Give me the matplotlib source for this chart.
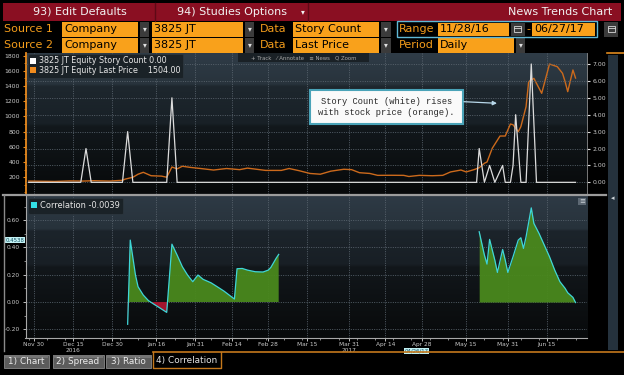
import numpy as np
import matplotlib
matplotlib.use("Agg")
import matplotlib.pyplot as plt
import matplotlib.dates as mdates
from matplotlib import font_manager
from matplotlib.patches import Rectangle, Patch
from matplotlib.ticker import MultipleLocator, FixedLocator, FormatStrFormatter
from matplotlib.transforms import blended_transform_factory
from matplotlib.colors import to_rgb

# ---------------- data ----------------
price_dates = ['2016-11-28', '2016-12-02', '2016-12-08', '2016-12-14', '2016-12-19', '2016-12-23',
               '2016-12-29', '2017-01-03', '2017-01-04', '2017-01-07', '2017-01-09', '2017-01-11',
               '2017-01-14', '2017-01-18', '2017-01-20', '2017-01-22', '2017-01-24', '2017-01-26',
               '2017-01-29', '2017-02-02', '2017-02-07', '2017-02-12', '2017-02-17', '2017-02-20',
               '2017-02-27', '2017-03-05', '2017-03-08', '2017-03-12', '2017-03-16', '2017-03-20',
               '2017-03-24', '2017-03-29', '2017-04-01', '2017-04-04', '2017-04-08', '2017-04-11',
               '2017-04-16', '2017-04-21', '2017-04-23', '2017-04-27', '2017-05-02', '2017-05-06',
               '2017-05-09', '2017-05-13', '2017-05-15', '2017-05-18', '2017-05-20', '2017-05-22',
               '2017-05-23', '2017-05-25', '2017-05-28', '2017-05-30', '2017-06-01', '2017-06-02',
               '2017-06-04', '2017-06-05', '2017-06-07', '2017-06-08', '2017-06-10', '2017-06-13',
               '2017-06-16', '2017-06-19', '2017-06-21', '2017-06-22', '2017-06-23', '2017-06-25',
               '2017-06-26']
price_values = [150, 148, 145, 152, 150, 155,
                150, 160, 175, 200, 240, 265,
                220, 215, 200, 335, 310, 345,
                330, 315, 295, 315, 300, 320,
                290, 290, 315, 285, 250, 240,
                280, 305, 300, 260, 250, 225,
                226, 225, 210, 225, 220, 225,
                270, 295, 270, 300, 325, 384,
                400, 580, 742, 742, 900, 890,
                799, 865, 1128, 1456, 1500, 1303,
                1688, 1653, 1566, 1456, 1325, 1610,
                1504]

story_dates = ['2016-11-28', '2016-12-18', '2016-12-20', '2016-12-22', '2017-01-03', '2017-01-05',
               '2017-01-07', '2017-01-20', '2017-01-22', '2017-01-24', '2017-05-19', '2017-05-20',
               '2017-05-22', '2017-05-24', '2017-05-26', '2017-05-29', '2017-05-30', '2017-06-01',
               '2017-06-02', '2017-06-03', '2017-06-05', '2017-06-07', '2017-06-09', '2017-06-11',
               '2017-06-26']
story_values = [0, 0, 2, 0, 0, 3,
                0, 0, 5, 0, 0, 2,
                0, 1, 0, 1, 0, 0,
                1, 4, 0, 0, 7, 0,
                0]

corr_dates = ['2017-01-05', '2017-01-06', '2017-01-08', '2017-01-09', '2017-01-11', '2017-01-13',
              '2017-01-15', '2017-01-17', '2017-01-20', '2017-01-22', '2017-01-24', '2017-01-26',
              '2017-01-28', '2017-01-30', '2017-02-01', '2017-02-03', '2017-02-06', '2017-02-08',
              '2017-02-11', '2017-02-13', '2017-02-15', '2017-02-16', '2017-02-18', '2017-02-20',
              '2017-02-23', '2017-02-26', '2017-02-28', '2017-03-01', '2017-03-03', '2017-03-04',
              '2017-04-10',
              '2017-05-20', '2017-05-22', '2017-05-23', '2017-05-24', '2017-05-26', '2017-05-27',
              '2017-05-29', '2017-05-30', '2017-05-31', '2017-06-02', '2017-06-04', '2017-06-05',
              '2017-06-06', '2017-06-07', '2017-06-09', '2017-06-10', '2017-06-12', '2017-06-14',
              '2017-06-16', '2017-06-18', '2017-06-20', '2017-06-22', '2017-06-23', '2017-06-25',
              '2017-06-26']
corr_values = [-0.163, 0.4538, 0.198, 0.112, 0.051, 0.010,
               -0.015, -0.039, -0.076, 0.424, 0.344, 0.259,
               0.198, 0.149, 0.198, 0.166, 0.141, 0.117,
               0.080, 0.051, 0.022, 0.244, 0.246, 0.234,
               0.222, 0.220, 0.234, 0.254, 0.320, 0.349,
               np.nan,
               0.515, 0.344, 0.278, 0.459, 0.307, 0.217,
               0.385, 0.307, 0.217, 0.332, 0.454, 0.471,
               0.393, 0.478, 0.690, 0.576, 0.502, 0.417,
               0.332, 0.234, 0.149, 0.100, 0.068, 0.034,
               -0.0039]

tick_dates = ['2016-11-30', '2016-12-15', '2016-12-30', '2017-01-16', '2017-01-31', '2017-02-14',
              '2017-02-28', '2017-03-15', '2017-03-31', '2017-04-14', '2017-04-28', '2017-05-15',
              '2017-05-31', '2017-06-15']
tick_labels = ['Nov 30', 'Dec 15\n2016', 'Dec 30', 'Jan 16', 'Jan 31', 'Feb 14',
               'Feb 28', 'Mar 15', 'Mar 31\n2017', 'Apr 14', 'Apr 28', 'May 15',
               'May 31', 'Jun 15']
price_ticks = [200, 400, 600, 800, 1000, 1200, 1400, 1600, 1800]
story_ticks = [0, 1, 2, 3, 4, 5, 6, 7]
corr_ticks = [-0.2, 0.0, 0.2, 0.4, 0.6]
crosshair_date = '2017-04-26'
ticker = '3825 JT'

# ---------------- fonts ----------------
names = {f.name for f in font_manager.fontManager.ttflist}
HAS_NARROW = 'Liberation Sans Narrow' in names
SANS = 'Liberation Sans Narrow' if HAS_NARROW else 'DejaVu Sans'
MONO = 'Liberation Mono' if 'Liberation Mono' in names else 'DejaVu Sans Mono'
K = 1.0 if HAS_NARROW else 0.8
plt.rcParams['font.family'] = [SANS, 'DejaVu Sans']

W, H = 624, 375


def rect(x0, y0, x1, y1):
    return [x0 / W, 1 - y1 / H, (x1 - x0) / W, (y1 - y0) / H]


fig = plt.figure(figsize=(W / 100, H / 100), dpi=100, facecolor='black')


def gradient_axes(r, stops):
    bg = fig.add_axes(r, zorder=0)
    bg.axis('off')
    n = 400
    pos = np.linspace(0, 1, n)
    sp = [s[0] for s in stops]
    cols = np.array([to_rgb(s[1]) for s in stops])
    img = np.stack([np.interp(pos, sp, cols[:, i]) for i in range(3)], axis=-1)[:, None, :]
    bg.imshow(img, aspect='auto', extent=(0, 1, 0, 1), origin='upper', interpolation='bilinear')
    bg.set_xlim(0, 1)
    bg.set_ylim(0, 1)
    return bg


top_rect = rect(25.5, 53, 587, 194)
bot_rect = rect(25.5, 196, 587, 337.5)
gradient_axes(top_rect, [(0, '#2f3c47'), (0.22, '#28333c'), (0.235, '#1e272e'),
                         (0.5, '#182026'), (0.52, '#12181c'), (1.0, '#07090a')])
gradient_axes(bot_rect, [(0, '#2e3a45'), (0.23, '#27323b'), (0.245, '#1c242b'),
                         (0.48, '#181f25'), (0.5, '#12171b'), (1.0, '#080a0b')])

d0 = mdates.datestr2num('2016-11-30')
XLIM = (d0 - 3.23, d0 + 212.4)
tick_x = mdates.datestr2num(tick_dates)
minor_x = np.arange(mdates.datestr2num('2016-11-28'), XLIM[1], 7)

GRID = dict(color='#5d6872', linestyle=(0, (1.2, 1.6)), linewidth=0.6)
TICKC = '#c9c9c9'

# ---------------- top panel ----------------
ax_t = fig.add_axes(top_rect, zorder=1)
ax_t.set_facecolor('none')
px = mdates.datestr2num(price_dates)
ax_t.plot(px, price_values, color='#cc6a1c', lw=1.0, zorder=3)
ax_t.set_xlim(*XLIM)
ax_t.set_ylim(-20, 1833)
ax_t.yaxis.set_major_locator(FixedLocator(price_ticks))
ax_t.yaxis.set_minor_locator(MultipleLocator(100))
ax_t.set_xticks(tick_x)
ax_t.tick_params(axis='x', length=0, labelbottom=False)
ax_t.tick_params(axis='y', which='major', colors='#e88a1e', labelcolor=TICKC,
                 labelsize=5.5 * K, length=2.5, width=0.8, pad=1.5)
ax_t.tick_params(axis='y', which='minor', colors='#e88a1e', length=1.5, width=0.6)
for s in ['top', 'right', 'bottom']:
    ax_t.spines[s].set_visible(False)
ax_t.spines['left'].set_color('#e88a1e')
ax_t.spines['left'].set_linewidth(1.3)
ax_t.grid(axis='x', **GRID)

ax_s = ax_t.twinx()
sx = mdates.datestr2num(story_dates)
ax_s.plot(sx, story_values, color='#dcdcdc', lw=0.9, zorder=3)
ax_s.set_ylim(-0.69, 7.65)
ax_s.yaxis.set_major_locator(FixedLocator(story_ticks))
ax_s.yaxis.set_major_formatter(FormatStrFormatter('%.2f'))
ax_s.tick_params(axis='y', colors='#dddddd', labelcolor=TICKC, labelsize=5.5 * K,
                 length=2.5, width=0.8, pad=1.5)
for s in ['top', 'left', 'bottom']:
    ax_s.spines[s].set_visible(False)
ax_s.spines['right'].set_color('#8a8a8a')
ax_s.spines['right'].set_linewidth(0.6)
ax_s.grid(axis='y', **GRID)

leg_t = ax_s.legend(
    handles=[Patch(facecolor='#ffffff', edgecolor='none'),
             Patch(facecolor='#f28c1e', edgecolor='none')],
    labels=[f'{ticker} Equity Story Count {story_values[-1]:.2f}',
            f'{ticker} Equity Last Price    {price_values[-1]:.2f}'],
    loc='upper left', bbox_to_anchor=(28 / W, 1 - 54 / H), bbox_transform=fig.transFigure,
    borderaxespad=0, fontsize=7.2 * K, labelcolor='#e6e6e6', frameon=True, fancybox=True,
    facecolor='#1a2126', edgecolor='#2c363e', framealpha=0.95,
    handlelength=0.75, handleheight=0.75, handletextpad=0.35, borderpad=0.3, labelspacing=0.1)
leg_t.get_frame().set_linewidth(0.6)

# ---------------- bottom panel ----------------
ax_b = fig.add_axes(bot_rect, zorder=1)
ax_b.set_facecolor('none')
cx = mdates.datestr2num(corr_dates)
cy = np.array(corr_values, dtype=float)
idx = np.where(~np.isnan(cy))[0]
runs = np.split(idx, np.where(np.diff(idx) != 1)[0] + 1)
for r in runs:
    x, y = cx[r], cy[r]
    ax_b.fill_between(x, y, 0, where=y >= 0, interpolate=True, color='#4a891d', lw=0, alpha=0.95, zorder=2)
    ax_b.fill_between(x, y, 0, where=y <= 0, interpolate=True, color='#a3132d', lw=0, zorder=2)
    ax_b.plot(x, y, color='#3fd6d8', lw=0.9, zorder=3)
ax_b.set_xlim(*XLIM)
ax_b.set_ylim(-0.26, 0.777)
ax_b.yaxis.set_major_locator(FixedLocator(corr_ticks))
ax_b.yaxis.set_minor_locator(MultipleLocator(0.1))
ax_b.yaxis.set_major_formatter(FormatStrFormatter('%.2f'))
ax_b.set_xticks(tick_x)
ax_b.set_xticklabels(tick_labels)
ax_b.xaxis.set_minor_locator(FixedLocator(minor_x))
ax_b.tick_params(axis='both', which='major', colors='#bdbdbd', labelcolor=TICKC,
                 labelsize=5.3 * K, length=2.5, width=0.7, pad=1.5)
ax_b.tick_params(axis='x', which='major', pad=1.0)
ax_b.tick_params(axis='both', which='minor', colors='#bdbdbd', length=1.5, width=0.5)
for s in ['top', 'right']:
    ax_b.spines[s].set_visible(False)
for s in ['left', 'bottom']:
    ax_b.spines[s].set_color('#a8a8a8')
    ax_b.spines[s].set_linewidth(0.8)
ax_b.grid(axis='both', which='major', **GRID)

leg_b = ax_b.legend(
    handles=[Patch(facecolor='#33e0e6', edgecolor='none')],
    labels=[f'Correlation {corr_values[-1]:.4f}'],
    loc='upper left', bbox_to_anchor=(28 / W, 1 - 198 / H), bbox_transform=fig.transFigure,
    borderaxespad=0, fontsize=7.4 * K, labelcolor='#e6e6e6', frameon=True, fancybox=True,
    facecolor='#1a2126', edgecolor='#2c363e', framealpha=0.95,
    handlelength=0.75, handleheight=0.75, handletextpad=0.35, borderpad=0.4)
leg_b.get_frame().set_linewidth(0.6)

# crosshair value labels
peak_val = np.nanmax(cy[:runs[0][-1] + 1])
ax_b.text(-0.019, peak_val, f'{peak_val:.4f}',
          transform=blended_transform_factory(ax_b.transAxes, ax_b.transData),
          ha='center', va='center', fontsize=4.8 * K, color='#0f4a5c', clip_on=False,
          bbox=dict(boxstyle='square,pad=0.12', fc='#c2f1f3', ec='none'))
cdt = mdates.datestr2num(crosshair_date)
ax_b.text(cdt, -0.093, '04/26/17',
          transform=blended_transform_factory(ax_b.transData, ax_b.transAxes),
          ha='center', va='center', fontsize=4.8 * K, color='#0f4a5c', clip_on=False,
          bbox=dict(boxstyle='square,pad=0.1', fc='#c2f1f3', ec='none'))

# ---------------- overlay (terminal chrome) ----------------
ov = fig.add_axes([0, 0, 1, 1], zorder=5)
ov.set_xlim(0, W)
ov.set_ylim(H, 0)
ov.axis('off')

AMBER = '#f9a11b'
LBL = '#f39c1b'


def box(x0, y0, x1, y1, fc, ec='none', lw=0, z=1):
    ov.add_patch(Rectangle((x0, y0), x1 - x0, y1 - y0, facecolor=fc, edgecolor=ec, lw=lw, zorder=z))


def txt(x, y, s, color, size, ha='left', family=None, z=3):
    kw = {}
    if family:
        kw['family'] = family
    ov.text(x, y, s, color=color, fontsize=size, ha=ha, va='center', zorder=z, **kw)


def dropdown(x0, y0, x1, y1):
    box(x0, y0, x1, y1, '#3b3b3b')
    txt((x0 + x1) / 2, (y0 + y1) / 2, '\u25be', '#e0e0e0', 5.5, ha='center', family='DejaVu Sans')


def calendar(x0, y0, x1, y1):
    box(x0, y0, x1, y1, '#3b3b3b')
    cxm, cym = (x0 + x1) / 2, (y0 + y1) / 2
    ov.add_patch(Rectangle((cxm - 3.5, cym - 3), 7, 6, fill=False, ec='#d8d8d8', lw=0.6, zorder=3))
    ov.plot([cxm - 3.5, cxm + 3.5], [cym - 1.5, cym - 1.5], color='#d8d8d8', lw=0.6, zorder=3)


# header bar
box(3, 3, 621, 20.5, '#8a0f22')
ov.plot([155, 155], [3, 20.5], color='#5e0916', lw=1, zorder=2)
ov.plot([308, 308], [3, 20.5], color='#5e0916', lw=1, zorder=2)
txt(33, 12, '93) Edit Defaults', '#f2f2f2', 10 * K)
txt(177, 12, '94) Studies Options', '#f2f2f2', 10 * K)
txt(303, 12, '\u25be', '#f2f2f2', 5.5, ha='center', family='DejaVu Sans')
txt(612, 12, 'News Trends Chart', '#f2f2f2', 10 * K, ha='right')

FS = 10 * K
# row 1
y0, y1, yc = 21.5, 36.5, 29.3
txt(4, yc, 'Source 1', LBL, FS)
box(62, y0, 138, y1, AMBER); txt(64, yc, 'Company', '#000000', FS)
dropdown(140, y0, 149, y1)
box(152, y0, 243, y1, AMBER); txt(154, yc, ticker, '#000000', FS)
dropdown(245, y0, 254, y1)
txt(260, yc, 'Data', LBL, FS)
box(293, y0, 379, y1, AMBER); txt(295, yc, 'Story Count', '#000000', FS)
dropdown(381, y0, 391, y1)
ov.add_patch(Rectangle((396.5, 21), 200, 16, fill=False, ec='#5fb8d6', lw=1.0, zorder=4))
txt(399, yc, 'Range', LBL, FS)
box(438, 22.5, 509, 35.5, AMBER); txt(440, yc, '11/28/16', '#000000', FS)
calendar(511, 22.5, 524.5, 35.5)
txt(528, yc, '-', LBL, FS, ha='center')
box(532, 22.5, 595, 35.5, AMBER); txt(534, yc, '06/27/17', '#000000', FS)
calendar(604, y0, 618, y1)

# row 2
y0, y1, yc = 37.5, 52.5, 45.3
txt(4, yc, 'Source 2', LBL, FS)
box(62, y0, 138, y1, AMBER); txt(64, yc, 'Company', '#000000', FS)
dropdown(140, y0, 149, y1)
box(152, y0, 243, y1, AMBER); txt(154, yc, ticker, '#000000', FS)
dropdown(245, y0, 254, y1)
txt(260, yc, 'Data', LBL, FS)
box(293, y0, 379, y1, AMBER); txt(295, yc, 'Last Price', '#000000', FS)
dropdown(381, y0, 391, y1)
txt(399, yc, 'Period', LBL, FS)
box(438, y0, 514, y1, AMBER); txt(440, yc, 'Daily', '#000000', FS)
dropdown(516, y0, 525, y1)

# chart toolbar
box(238, 53, 369, 62, '#1a2126', z=2)
txt(303.5, 57.6, '+ Track   \u2044 Annotate   \u2261 News   Q Zoom', '#a9a9a9', 4.8 * K, ha='center')

# right side column and separators
box(608, 55, 618, 350, '#25323d')
ov.plot([607, 624], [52.5, 52.5], color='#e08a1e', lw=1.2, zorder=2)
ov.plot([3, 606], [194.9, 194.9], color='#9c9c9c', lw=1.6, zorder=2)
ov.plot([3.5, 3.5], [194.9, 351], color='#8a8a8a', lw=1.0, zorder=2)
box(578, 197.5, 586, 205, '#5d6873', z=2)
txt(582, 201.2, '\u2261', '#cfd6db', 5, ha='center', family='DejaVu Sans')
txt(613, 198, '\u25c2', '#cfd6db', 5, ha='center', family='DejaVu Sans')

# annotation
ov.add_patch(Rectangle((309.5, 90), 153.5, 34, facecolor='#fafafa', edgecolor='#4aa3b8', lw=1.5, zorder=3))
txt(386.5, 101.5, 'Story Count (white) rises', '#2a2a2a', 6.3, ha='center', family=MONO, z=4)
txt(386.5, 112.5, 'with stock price (orange).', '#2a2a2a', 6.3, ha='center', family=MONO, z=4)
ov.annotate('', xy=(497, 103.3), xytext=(464, 101.7),
            arrowprops=dict(arrowstyle='-|>', color='#b8d8ea', lw=0.9, mutation_scale=6,
                            shrinkA=0, shrinkB=0), zorder=4)

# bottom tabs
for (x0, x1, label) in [(4, 48.5, '1) Chart'), (52.5, 103.5, '2) Spread'), (106, 151, '3) Ratio')]:
    box(x0, 354.5, x1, 367.5, '#5c5c5c', ec='#8a8a8a', lw=0.6)
    box(x0 + 0.5, 355, x1 - 0.5, 358, '#747474')
    txt((x0 + x1) / 2, 361.3, label, '#ececec', 8 * K, ha='center')
box(153, 352, 221, 368, '#000000')
ov.plot([153, 153, 221, 221], [352, 368, 368, 352], color='#c4781c', lw=1.0, zorder=3)
ov.plot([153, 624], [352, 352], color='#c4781c', lw=1.2, zorder=3)
txt(187, 360.5, '4) Correlation', '#e4e4e4', 8 * K, ha='center')

fig.savefig('out.png', dpi=100, facecolor='black')
